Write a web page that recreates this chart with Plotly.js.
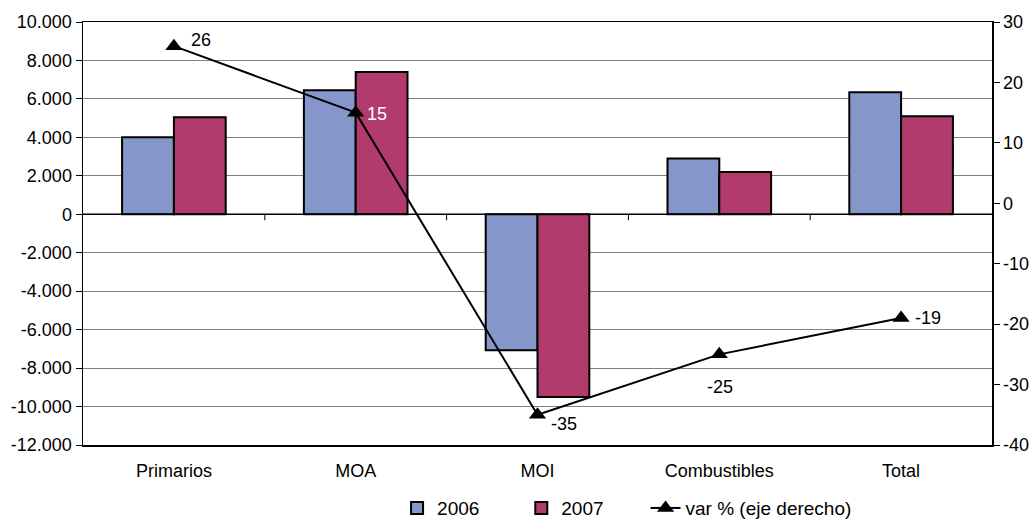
<!DOCTYPE html>
<html>
<head>
<meta charset="utf-8">
<script src="https://cdn.plot.ly/plotly-3.0.1.min.js"></script>
<style>html,body{margin:0;padding:0;background:#fff;}#chart{width:1032px;height:519px;}</style>
</head>
<body>
<div id="chart"></div>
<script>
var categories = ['Primarios', 'MOA', 'MOI', 'Combustibles', 'Total'];
var values2006 = [4000, 6450, -7070, 2900, 6350];
var values2007 = [5050, 7400, -9500, 2200, 5100];
var varPct = [26, 15, -35, -25, -19];
var seriesNames = ['2006', '2007', 'var % (eje derecho)'];
var leftTickVals = [10000, 8000, 6000, 4000, 2000, 0, -2000, -4000, -6000, -8000, -10000, -12000];
var leftTickText = ['10.000', '8.000', '6.000', '4.000', '2.000', '0', '-2.000', '-4.000', '-6.000', '-8.000', '-10.000', '-12.000'];
var rightTickVals = [30, 20, 10, 0, -10, -20, -30, -40];
var rightTickText = ['30', '20', '10', '0', '-10', '-20', '-30', '-40'];

var font = '"Liberation Sans", Arial, sans-serif';
var pad = '\u00a0\u00a0\u00a0\u00a0\u00a0\u00a0\u00a0';

var labelStyle = [
  {xshift: 15, yshift: 6, color: '#000', xanchor: 'left'},
  {xshift: 9, yshift: -1, color: '#fff', xanchor: 'left'},
  {xshift: 11, yshift: -9, color: '#000', xanchor: 'left'},
  {xshift: 1, yshift: -33, color: '#000', xanchor: 'center'},
  {xshift: 12, yshift: 0, color: '#000', xanchor: 'left'}
];

var traces = [
  {type: 'bar', name: seriesNames[0] + pad, x: categories, y: values2006,
   marker: {color: '#8596CB', line: {color: '#000', width: 2}}},
  {type: 'bar', name: seriesNames[1] + pad, x: categories, y: values2007,
   marker: {color: '#B23B6D', line: {color: '#000', width: 2}}},
  {type: 'scatter', mode: 'lines+markers', name: seriesNames[2], x: categories, y: varPct, yaxis: 'y2',
   line: {color: '#000', width: 2}, marker: {symbol: 'triangle-up', size: 15, color: '#000'}}
];

var annotations = varPct.map(function (v, i) {
  var s = labelStyle[i];
  return {x: categories[i], y: v, xref: 'x', yref: 'y2', text: String(v), showarrow: false,
    xshift: s.xshift, yshift: s.yshift, xanchor: s.xanchor, yanchor: 'middle',
    font: {family: font, size: 18, color: s.color}};
});

var shapes = [];
for (var k = 0; k < categories.length - 1; k++) {
  shapes.push({type: 'line', xref: 'x', yref: 'y', x0: k + 0.5, x1: k + 0.5,
    ysizemode: 'pixel', yanchor: 0, y0: 0, y1: -6, line: {color: '#000', width: 1}});
}
shapes.push({type: 'line', xref: 'paper', yref: 'y', x0: 0, x1: 1, y0: 0, y1: 0, line: {color: '#000', width: 1.5}});

var layout = {
  width: 1032, height: 519,
  margin: {l: 83, r: 40, t: 22, b: 74},
  paper_bgcolor: '#fff', plot_bgcolor: '#fff',
  font: {family: font, size: 18, color: '#000'},
  barmode: 'group', bargap: 0.43, bargroupgap: 0,
  showlegend: true,
  legend: {orientation: 'h', x: 0.3455, xanchor: 'left', xref: 'paper', yref: 'container', y: 0.021, yanchor: 'middle',
    font: {family: font, size: 19, color: '#000'}, traceorder: 'normal'},
  xaxis: {type: 'category', showgrid: false, zeroline: false, showline: true, linecolor: '#000', linewidth: 1.5,
    mirror: true, ticks: '', ticklabelstandoff: 9, tickfont: {family: font, size: 18}},
  yaxis: {range: [-12000, 10000], tickvals: leftTickVals, ticktext: leftTickText, showgrid: true,
    gridcolor: '#808080', gridwidth: 1, zeroline: false, showline: true, linecolor: '#000', linewidth: 1.5,
    ticks: 'outside', ticklen: 6, tickcolor: '#000', tickfont: {family: font, size: 18}},
  yaxis2: {range: [-40, 30], tickvals: rightTickVals, ticktext: rightTickText, overlaying: 'y', side: 'right',
    showgrid: false, zeroline: false, showline: true, linecolor: '#000', linewidth: 1.5,
    ticks: 'outside', ticklen: 6, tickcolor: '#000', tickfont: {family: font, size: 18}},
  annotations: annotations,
  shapes: shapes
};

Plotly.newPlot('chart', traces, layout, {displayModeBar: false, staticPlot: true});
</script>
</body>
</html>
